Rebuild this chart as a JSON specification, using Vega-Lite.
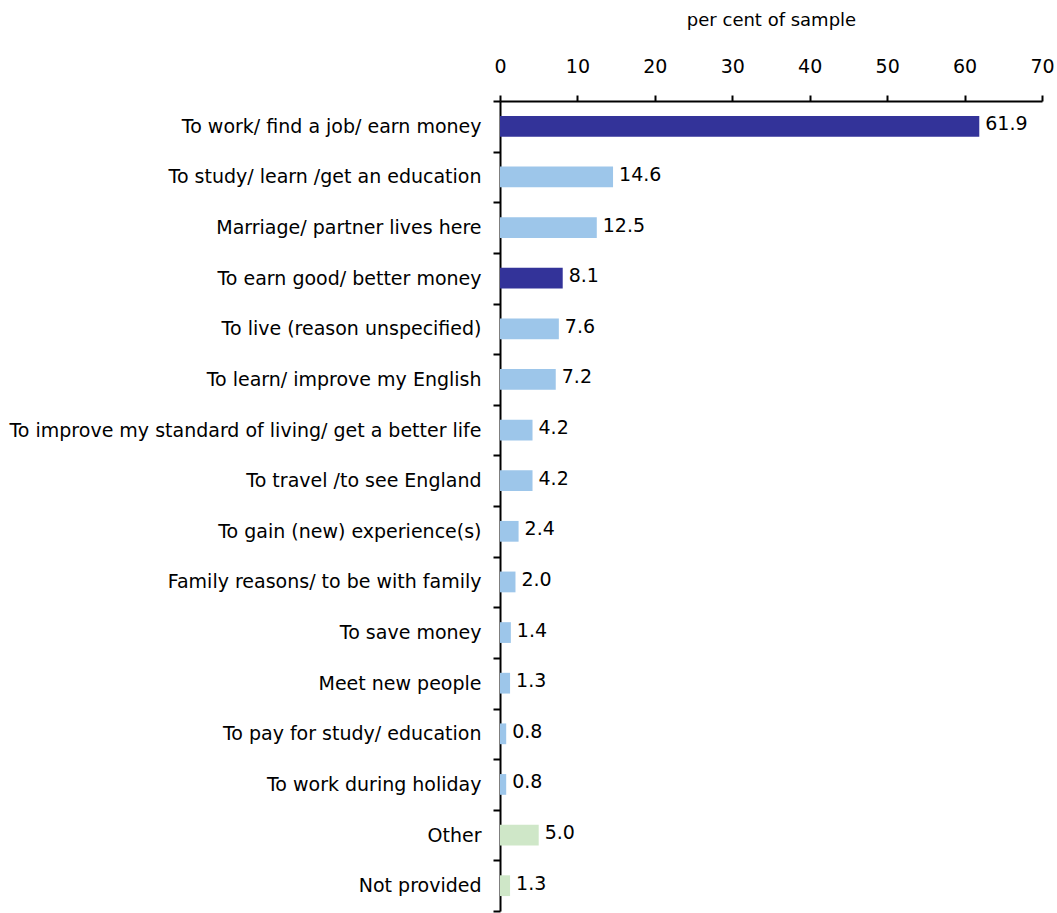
{
  "$schema": "https://vega.github.io/schema/vega-lite/v6.json",
  "autosize": "none",
  "width": 542,
  "height": 810,
  "padding": {"left": 500, "top": 101, "right": 15, "bottom": 2},
  "background": "white",
  "config": {"view": {"stroke": null}, "font": "DejaVu Sans"},
  "data": {"values": [
    {"reason": "To work/ find a job/ earn money", "value": 61.9, "group": "dark"},
    {"reason": "To study/ learn /get an education", "value": 14.6, "group": "light"},
    {"reason": "Marriage/ partner lives here", "value": 12.5, "group": "light"},
    {"reason": "To earn good/ better money", "value": 8.1, "group": "dark"},
    {"reason": "To live (reason unspecified)", "value": 7.6, "group": "light"},
    {"reason": "To learn/ improve my English", "value": 7.2, "group": "light"},
    {"reason": "To improve my standard of living/ get a better life", "value": 4.2, "group": "light"},
    {"reason": "To travel /to see England", "value": 4.2, "group": "light"},
    {"reason": "To gain (new) experience(s)", "value": 2.4, "group": "light"},
    {"reason": "Family reasons/ to be with family", "value": 2.0, "group": "light"},
    {"reason": "To save money", "value": 1.4, "group": "light"},
    {"reason": "Meet new people", "value": 1.3, "group": "light"},
    {"reason": "To pay for study/ education", "value": 0.8, "group": "light"},
    {"reason": "To work during holiday", "value": 0.8, "group": "light"},
    {"reason": "Other", "value": 5.0, "group": "green"},
    {"reason": "Not provided", "value": 1.3, "group": "green"}
  ]},
  "encoding": {
    "y": {
      "field": "reason", "type": "nominal", "sort": null,
      "scale": {"paddingInner": 0, "paddingOuter": 0},
      "axis": {
        "title": null, "domainColor": "black", "domainWidth": 2,
        "tickColor": "black", "tickWidth": 2, "tickSize": 7, "tickBand": "extent",
        "labelFontSize": 19, "labelColor": "black", "labelPadding": 12,
        "labelLimit": 600
      }
    },
    "x": {
      "field": "value", "type": "quantitative",
      "scale": {"domain": [0, 70], "nice": false},
      "axis": {
        "orient": "top", "values": [0, 10, 20, 30, 40, 50, 60, 70],
        "title": "per cent of sample", "titleFontSize": 18, "titleFontWeight": "normal",
        "titleColor": "black", "titlePadding": 28,
        "grid": false, "domainColor": "black", "domainWidth": 2,
        "tickColor": "black", "tickWidth": 2, "tickSize": 6,
        "labelFontSize": 19, "labelColor": "black", "labelPadding": 19, "labelFlush": false
      }
    }
  },
  "layer": [
    {
      "mark": {"type": "bar", "height": {"band": 0.41}},
      "encoding": {
        "color": {
          "field": "group", "type": "nominal", "legend": null,
          "scale": {"domain": ["dark", "light", "green"], "range": ["#333399", "#9DC6EA", "#CFE7C8"]}
        }
      }
    },
    {
      "mark": {"type": "text", "align": "left", "dx": 6, "dy": -2, "fontSize": 19, "color": "black"},
      "encoding": {"text": {"field": "value", "type": "quantitative", "format": ".1f"}}
    }
  ]
}
